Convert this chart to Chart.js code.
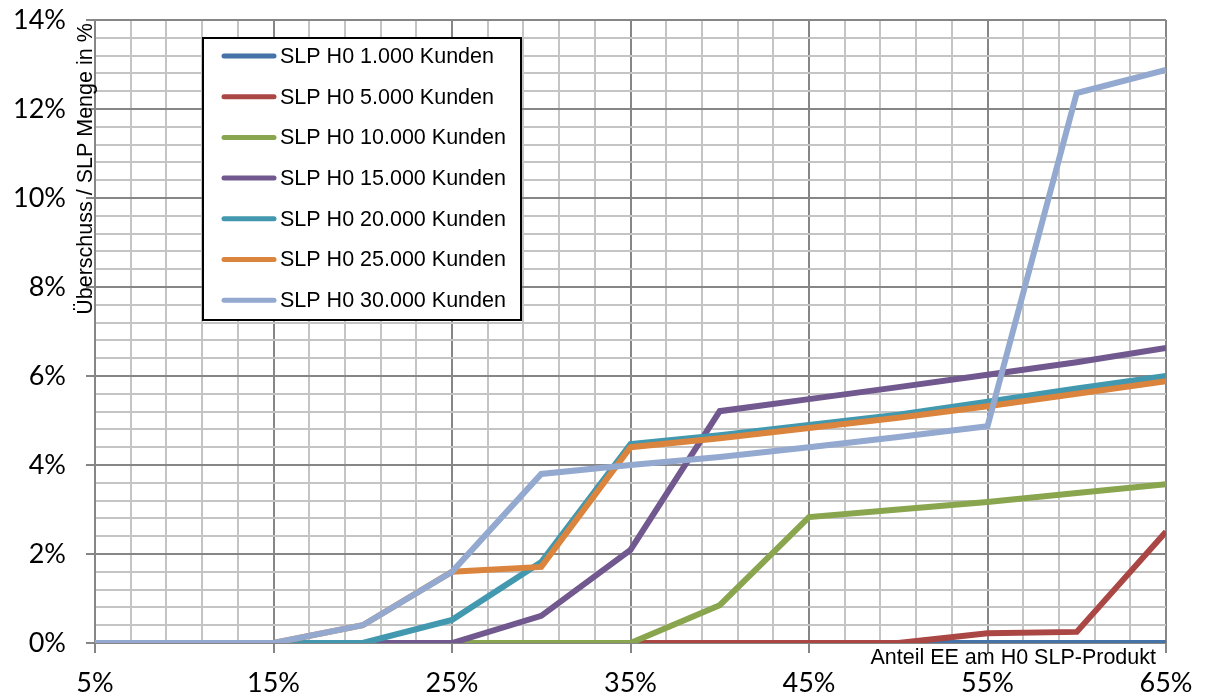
<!DOCTYPE html>
<html>
<head>
<meta charset="utf-8">
<script src="https://cdn.jsdelivr.net/npm/chart.js@4/dist/chart.umd.min.js"></script>
<style>
  html, body { margin: 0; padding: 0; background: #fff; }
  #wrap { width: 1205px; height: 696px; position: relative; }
</style>
</head>
<body>
<div id="wrap"><canvas id="c"></canvas></div>
<script>
// ---- data ----
const xValues = [5, 10, 15, 20, 25, 30, 35, 40, 45, 50, 55, 60, 65];
const seriesLabels = [
  "SLP H0 1.000 Kunden",
  "SLP H0 5.000 Kunden",
  "SLP H0 10.000 Kunden",
  "SLP H0 15.000 Kunden",
  "SLP H0 20.000 Kunden",
  "SLP H0 25.000 Kunden",
  "SLP H0 30.000 Kunden"
];
const s1000  = [0, 0, 0, 0, 0, 0, 0, 0, 0, 0, 0, 0, 0];
const s5000  = [0, 0, 0, 0, 0, 0, 0, 0, 0, 0, 0.22, 0.25, 2.5];
const s10000 = [0, 0, 0, 0, 0, 0, 0, 0.85, 2.83, 3.0, 3.17, 3.37, 3.57];
const s15000 = [0, 0, 0, 0, 0, 0.61, 2.09, 5.21, 5.48, 5.75, 6.03, 6.31, 6.63];
const s20000 = [0, 0, 0, 0, 0.52, 1.82, 4.47, 4.67, 4.9, 5.13, 5.42, 5.72, 6.0];
const s25000 = [0, 0, 0, 0.4, 1.6, 1.71, 4.4, 4.6, 4.83, 5.06, 5.32, 5.6, 5.88];
const s30000 = [0, 0, 0, 0.4, 1.6, 3.8, 4.0, 4.18, 4.4, 4.63, 4.87, 12.36, 12.88];
const seriesValues = [s1000, s5000, s10000, s15000, s20000, s25000, s30000];
const seriesColors = ["#4572A7", "#AA4643", "#89A54E", "#71588F", "#4198AF", "#DB843D", "#93A9CF"];
const xTitle = "Anteil EE am H0 SLP-Produkt";
const yTitle = "Überschuss / SLP Menge in %";

// ---- helpers ----
const isMult = (v, base, off) => {
  const q = (v - off) / base;
  return Math.abs(q - Math.round(q)) < 1e-6;
};
const MAJOR = "#868686";
const MINOR = "#c4c4c4";

const datasets = seriesValues.map((arr, i) => ({
  label: seriesLabels[i],
  data: xValues.map((x, j) => ({ x: x, y: arr[j] })),
  borderColor: seriesColors[i],
  backgroundColor: seriesColors[i],
  borderWidth: 6,
  pointRadius: 0,
  pointHoverRadius: 0,
  tension: 0,
  fill: false,
  order: seriesValues.length - i   // later series drawn on top
}));

const legendPlugin = {
  id: "boxLegend",
  afterDraw(chart) {
    const ctx = chart.ctx;
    const bx = 203, by = 38, bw = 318, bh = 282;
    ctx.save();
    ctx.fillStyle = "#fff";
    ctx.fillRect(bx, by, bw, bh);
    ctx.lineWidth = 2;
    ctx.strokeStyle = "#000";
    ctx.strokeRect(bx, by, bw, bh);
    ctx.font = "21.5px 'Liberation Sans', Arial, sans-serif";
    ctx.textBaseline = "middle";
    ctx.textAlign = "left";
    seriesLabels.forEach((lab, i) => {
      const y = 56 + i * 40.7;
      ctx.beginPath();
      ctx.lineCap = "round";
      ctx.lineWidth = 5;
      ctx.strokeStyle = seriesColors[i];
      ctx.moveTo(224, y);
      ctx.lineTo(274, y);
      ctx.stroke();
      ctx.fillStyle = "#000";
      ctx.fillText(lab, 280, y + 1);
    });
    ctx.restore();
  }
};

const titlesPlugin = {
  id: "axisTitles",
  afterDraw(chart) {
    const ctx = chart.ctx;
    ctx.save();
    ctx.fillStyle = "#000";
    ctx.font = "21.5px 'Liberation Sans', Arial, sans-serif";
    ctx.textBaseline = "middle";
    ctx.textAlign = "right";
    ctx.fillText(xTitle, 1156, 658);
    ctx.translate(86, 169);
    ctx.rotate(-Math.PI / 2);
    ctx.textAlign = "center";
    ctx.fillText(yTitle, 0, 0);
    ctx.restore();
  }
};

new Chart(document.getElementById("c"), {
  type: "line",
  data: { datasets: datasets },
  options: {
    responsive: true,
    maintainAspectRatio: false,
    animation: false,
    events: [],
    layout: { padding: { top: 20, right: 39, left: 0, bottom: 0 } },
    plugins: { legend: { display: false }, tooltip: { enabled: false } },
    scales: {
      x: {
        type: "linear",
        min: 5, max: 65,
        afterFit(scale) { scale.height = 53; scale.paddingLeft = 0; scale.paddingRight = 0; },
        border: { display: true, color: MAJOR, width: 2 },
        grid: {
          lineWidth: 2,
          color: (c) => isMult(c.tick.value, 10, 5) ? MAJOR : MINOR,
          tickColor: (c) => isMult(c.tick.value, 10, 5) ? MAJOR : "rgba(0,0,0,0)",
          tickLength: 10
        },
        ticks: {
          stepSize: 2,
          autoSkip: false,
          maxRotation: 0,
          padding: 14,
          color: "#000",
          font: { family: "Lato, 'Open Sans', sans-serif", size: 27 },
          callback: (v) => isMult(v, 10, 5) ? Math.round(v) + "%" : ""
        }
      },
      y: {
        type: "linear",
        min: 0, max: 14,
        afterFit(scale) { scale.width = 95; scale.paddingTop = 0; scale.paddingBottom = 0; },
        border: { display: true, color: MAJOR, width: 2 },
        grid: {
          lineWidth: 2,
          color: (c) => isMult(c.tick.value, 2, 0) ? MAJOR : MINOR,
          tickColor: (c) => isMult(c.tick.value, 2, 0) ? MAJOR : "rgba(0,0,0,0)",
          tickLength: 9
        },
        ticks: {
          stepSize: 0.4,
          autoSkip: false,
          padding: 20,
          color: "#000",
          font: { family: "Lato, 'Open Sans', sans-serif", size: 27 },
          callback: (v) => isMult(v, 2, 0) ? Math.round(v) + "%" : ""
        }
      }
    }
  },
  plugins: [legendPlugin, titlesPlugin]
});
</script>
</body>
</html>
